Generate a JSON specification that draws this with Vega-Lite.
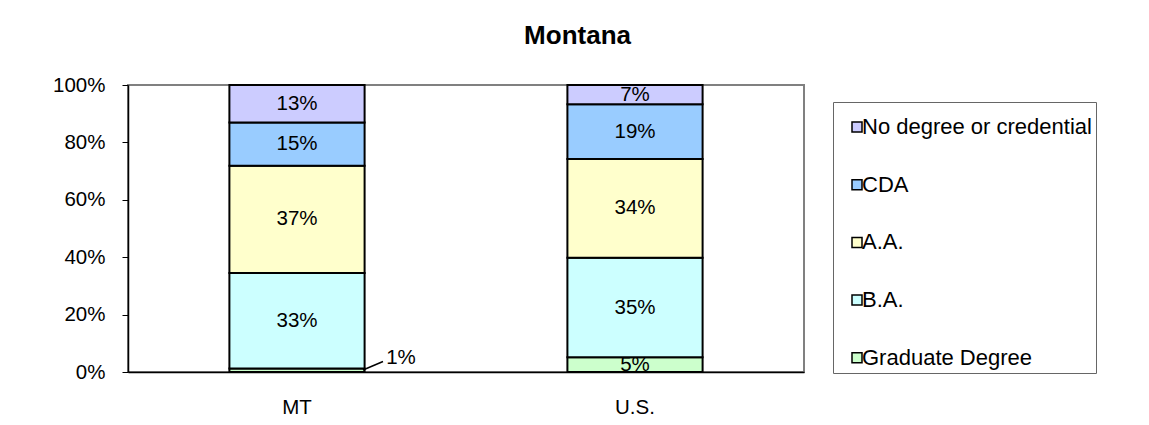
{
  "$schema": "https://vega.github.io/schema/vega-lite/v6.json",
  "width": 676,
  "height": 287,
  "padding": {"left": 52, "top": 23, "right": 5, "bottom": 5},
  "background": "white",
  "title": {"text": "Montana", "font": "Liberation Sans", "fontSize": 26, "fontWeight": "bold", "color": "#000000", "anchor": "middle", "frame": "bounds", "offset": 26, "dx": 3},
  "data": {
    "values": [
      {"Region": "MT", "Degree": "Graduate Degree", "level": 1, "value": 0.012},
      {"Region": "MT", "Degree": "B.A.", "level": 2, "value": 0.333},
      {"Region": "MT", "Degree": "A.A.", "level": 3, "value": 0.374},
      {"Region": "MT", "Degree": "CDA", "level": 4, "value": 0.150},
      {"Region": "MT", "Degree": "No degree or credential", "level": 5, "value": 0.131},
      {"Region": "U.S.", "Degree": "Graduate Degree", "level": 1, "value": 0.051},
      {"Region": "U.S.", "Degree": "B.A.", "level": 2, "value": 0.347},
      {"Region": "U.S.", "Degree": "A.A.", "level": 3, "value": 0.344},
      {"Region": "U.S.", "Degree": "CDA", "level": 4, "value": 0.191},
      {"Region": "U.S.", "Degree": "No degree or credential", "level": 5, "value": 0.067}
    ]
  },
  "encoding": {
    "x": {
      "field": "Region", "type": "nominal", "sort": ["MT", "U.S."],
      "scale": {"paddingInner": 0.6, "paddingOuter": 0.3},
      "axis": {"title": null, "labelAngle": 0, "tickSize": 0, "domainColor": "#000000", "domainWidth": 1.5, "labelFont": "Liberation Sans", "labelFontSize": 20.5, "labelColor": "#000000", "labelPadding": 25}
    }
  },
  "layer": [
    {
      "mark": {"type": "bar", "stroke": "#000000", "strokeWidth": 2},
      "encoding": {
        "y": {
          "field": "value", "type": "quantitative", "stack": "zero",
          "scale": {"domain": [0, 1], "nice": false},
          "axis": {"title": null, "grid": false, "values": [0, 0.2, 0.4, 0.6, 0.8, 1], "format": ".0%", "tickSize": 6, "tickColor": "#000000", "domainColor": "#000000", "domainWidth": 1.5, "labelFont": "Liberation Sans", "labelFontSize": 20.5, "labelColor": "#000000", "labelPadding": 17}
        },
        "color": {
          "field": "Degree", "type": "nominal",
          "sort": ["No degree or credential", "CDA", "A.A.", "B.A.", "Graduate Degree"],
          "scale": {"domain": ["No degree or credential", "CDA", "A.A.", "B.A.", "Graduate Degree"], "range": ["#CCCCFF", "#99CCFF", "#FFFFCC", "#CCFFFF", "#CCFFCC"]},
          "legend": {
            "orient": "none", "legendX": 705, "legendY": 17,
            "title": " ", "titleFontSize": 1, "titlePadding": 9,
            "padding": 4, "symbolOffset": 9, "labelOffset": -6,
            "symbolType": "square", "symbolSize": 100, "symbolStrokeColor": "#000000", "symbolStrokeWidth": 1.5,
            "labelFont": "Liberation Sans", "labelFontSize": 22, "labelColor": "#000000", "labelLimit": 400,
            "rowPadding": 35.7, "strokeColor": "#666666", "fillColor": "#ffffff"
          }
        },
        "order": {"field": "level", "type": "ordinal"}
      }
    },
    {
      "mark": {"type": "text", "font": "Liberation Sans", "fontSize": 20.5, "color": "#000000"},
      "encoding": {
        "y": {"field": "value", "type": "quantitative", "stack": "zero", "bandPosition": 0.5},
        "order": {"field": "level", "type": "ordinal"},
        "text": {"condition": {"test": "datum.value < 0.02", "value": ""}, "field": "value", "type": "quantitative", "format": ".0%"}
      }
    },
    {
      "transform": [{"filter": "datum.value < 0.02"}],
      "mark": {"type": "text", "font": "Liberation Sans", "fontSize": 20.5, "color": "#000000", "dx": 104, "dy": -11},
      "encoding": {
        "y": {"field": "value", "type": "quantitative", "stack": null},
        "text": {"field": "value", "type": "quantitative", "format": ".0%"}
      }
    },
    {
      "transform": [{"filter": "datum.value < 0.02"}],
      "mark": {"type": "rule", "color": "#000000", "strokeWidth": 1.5, "xOffset": 66, "x2Offset": 86, "yOffset": 1.5, "y2Offset": -7},
      "encoding": {
        "y": {"field": "value", "type": "quantitative", "stack": null},
        "y2": {"field": "value"},
        "x2": {"field": "Region"}
      }
    }
  ],
  "config": {
    "view": {"stroke": "#808080", "strokeWidth": 2}
  }
}
